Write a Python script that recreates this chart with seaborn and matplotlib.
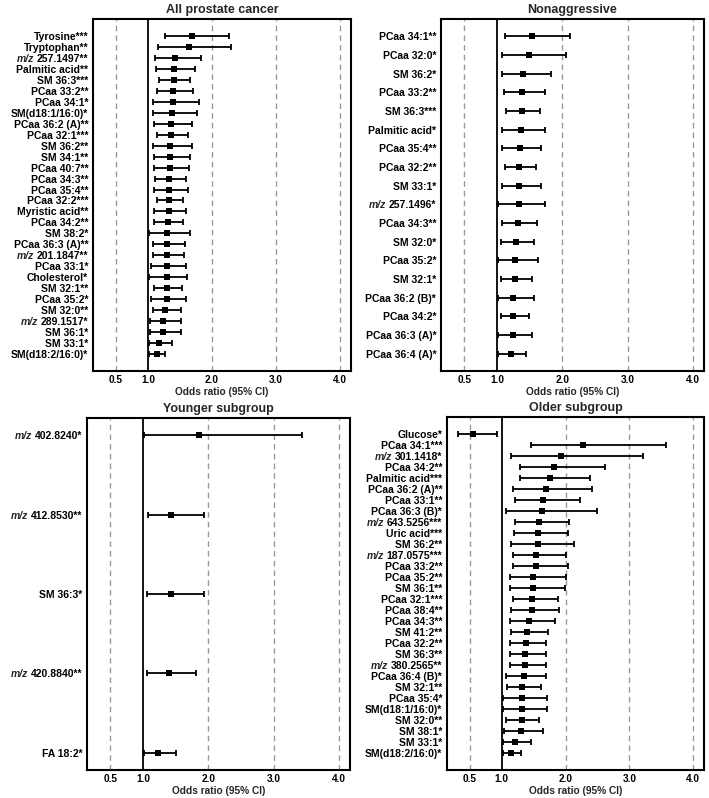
import numpy as np
import pandas as pd
import seaborn as sns
import matplotlib.pyplot as plt

# ---- data (odds ratio, lower CI, upper CI) ----
# labels starting with "m/z" get the "m/z" part drawn in italics
all_labels = [
    "Tyrosine***", "Tryptophan**", "m/z 257.1497**", "Palmitic acid**",
    "SM 36:3***", "PCaa 33:2**", "PCaa 34:1*", "SM(d18:1/16:0)*", "PCaa 36:2 (A)**",
    "PCaa 32:1***", "SM 36:2**", "SM 34:1**", "PCaa 40:7**", "PCaa 34:3**",
    "PCaa 35:4**", "PCaa 32:2***", "Myristic acid**", "PCaa 34:2**", "SM 38:2*",
    "PCaa 36:3 (A)**", "m/z 201.1847**", "PCaa 33:1*", "Cholesterol*",
    "SM 32:1**", "PCaa 35:2*", "SM 32:0**", "m/z 289.1517*", "SM 36:1*",
    "SM 33:1*", "SM(d18:2/16:0)*",
]
all_or = [1.69, 1.64, 1.42, 1.40, 1.40, 1.39, 1.39, 1.38, 1.36, 1.36, 1.35, 1.35,
          1.34, 1.33, 1.33, 1.33, 1.32, 1.31, 1.30, 1.30, 1.30, 1.29, 1.29, 1.29,
          1.29, 1.26, 1.24, 1.24, 1.17, 1.14]
all_lo = [1.27, 1.16, 1.11, 1.13, 1.17, 1.14, 1.07, 1.07, 1.10, 1.14, 1.08, 1.10,
          1.10, 1.11, 1.09, 1.14, 1.09, 1.10, 1.02, 1.07, 1.07, 1.05, 1.02, 1.09,
          1.05, 1.07, 1.03, 1.03, 1.02, 1.02]
all_hi = [2.26, 2.29, 1.82, 1.74, 1.66, 1.70, 1.79, 1.77, 1.68, 1.62, 1.68, 1.65,
          1.64, 1.60, 1.62, 1.55, 1.59, 1.55, 1.65, 1.57, 1.56, 1.60, 1.61, 1.53,
          1.59, 1.51, 1.51, 1.52, 1.37, 1.27]

nonagg_labels = [
    "PCaa 34:1**", "PCaa 32:0*", "SM 36:2*", "PCaa 33:2**", "SM 36:3***",
    "Palmitic acid*", "PCaa 35:4**", "PCaa 32:2**", "SM 33:1*",
    "m/z 257.1496*", "PCaa 34:3**", "SM 32:0*", "PCaa 35:2*",
    "SM 32:1*", "PCaa 36:2 (B)*", "PCaa 34:2*", "PCaa 36:3 (A)*", "PCaa 36:4 (A)*",
]
nonagg_or = [1.54, 1.49, 1.40, 1.38, 1.38, 1.37, 1.35, 1.34, 1.34, 1.34, 1.32,
             1.29, 1.28, 1.27, 1.25, 1.25, 1.24, 1.21]
nonagg_lo = [1.12, 1.08, 1.08, 1.10, 1.14, 1.07, 1.08, 1.12, 1.07, 1.02, 1.08,
             1.06, 1.02, 1.06, 1.02, 1.06, 1.02, 1.02]
nonagg_hi = [2.11, 2.06, 1.83, 1.73, 1.66, 1.74, 1.67, 1.60, 1.67, 1.74, 1.61,
             1.57, 1.62, 1.53, 1.57, 1.49, 1.53, 1.44]

young_labels = [
    "m/z 402.8240*", "m/z 412.8530**", "SM 36:3*", "m/z 420.8840**", "FA 18:2*",
]
young_or = [1.86, 1.43, 1.43, 1.39, 1.23]
young_lo = [1.01, 1.07, 1.06, 1.06, 1.01]
young_hi = [3.44, 1.93, 1.94, 1.81, 1.51]

old_labels = [
    "Glucose*", "PCaa 34:1***", "m/z 301.1418*", "PCaa 34:2**",
    "Palmitic acid***", "PCaa 36:2 (A)**", "PCaa 33:1**", "PCaa 36:3 (B)*",
    "m/z 643.5256***", "Uric acid***", "SM 36:2**",
    "m/z 187.0575***", "PCaa 33:2**", "PCaa 35:2**", "SM 36:1**",
    "PCaa 32:1***", "PCaa 38:4**", "PCaa 34:3**", "SM 41:2**", "PCaa 32:2**",
    "SM 36:3**", "m/z 380.2565**", "PCaa 36:4 (B)*", "SM 32:1**",
    "PCaa 35:4*", "SM(d18:1/16:0)*", "SM 32:0**", "SM 38:1*", "SM 33:1*",
    "SM(d18:2/16:0)*",
]
old_or = [0.54, 2.27, 1.93, 1.82, 1.75, 1.69, 1.65, 1.63, 1.58, 1.56, 1.56, 1.54,
          1.54, 1.49, 1.49, 1.48, 1.47, 1.43, 1.39, 1.38, 1.37, 1.37, 1.34, 1.32,
          1.32, 1.31, 1.31, 1.30, 1.20, 1.15]
old_lo = [0.31, 1.45, 1.15, 1.28, 1.29, 1.18, 1.21, 1.06, 1.21, 1.19, 1.14, 1.18,
          1.17, 1.12, 1.12, 1.17, 1.15, 1.13, 1.14, 1.13, 1.12, 1.12, 1.07, 1.08,
          1.02, 1.01, 1.07, 1.03, 1.02, 1.01]
old_hi = [0.92, 3.57, 3.22, 2.61, 2.38, 2.41, 2.23, 2.49, 2.06, 2.03, 2.13, 2.01,
          2.04, 2.00, 1.99, 1.88, 1.89, 1.84, 1.72, 1.69, 1.69, 1.69, 1.69, 1.62,
          1.70, 1.71, 1.59, 1.65, 1.45, 1.30]

x_ticks = [0.5, 1.0, 2.0, 3.0, 4.0]
x_ticklabels = ["0.5", "1.0", "2.0", "3.0", "4.0"]

sns.set_theme(style="white")
plt.rcParams["font.family"] = ["Liberation Sans", "DejaVu Sans"]
plt.rcParams["font.weight"] = "bold"

LABEL_SIZE = 7.5


def forest(ax, title, labels, odds, lo, hi):
    df = pd.DataFrame({"label": labels, "or": odds, "lo": lo, "hi": hi})
    n = len(df)
    df["pos"] = np.arange(n)

    # reference lines
    for v in [0.5, 2.0, 3.0, 4.0]:
        ax.axvline(v, color="#9a9a9a", lw=1.0, ls=(0, (4, 3)), zorder=0)
    ax.axvline(1.0, color="black", lw=1.3, zorder=1)

    ax.errorbar(df["or"], df["pos"], xerr=[df["or"] - df["lo"], df["hi"] - df["or"]],
                fmt="none", ecolor="black", elinewidth=1.3, capsize=2, capthick=1.3,
                zorder=2)
    sns.scatterplot(data=df, x="or", y="pos", marker="s", s=18, color="black",
                    edgecolor="black", linewidth=0, ax=ax, zorder=3)

    pad = (n - 1) * 0.054
    ax.set_ylim(n - 1 + pad, -pad)
    ax.set_yticks(df["pos"])
    # split off the italic "m/z" prefix
    shown = [lab[4:] if lab.startswith("m/z ") else lab for lab in df["label"]]
    ax.set_yticklabels(shown, fontsize=LABEL_SIZE, fontweight="bold")
    for lab, tl in zip(df["label"], ax.get_yticklabels()):
        if lab.startswith("m/z "):
            ax.annotate("m/z", xy=(0, 0), xycoords=tl, xytext=(-1.7, 0),
                        textcoords="offset points", ha="right", va="bottom",
                        fontsize=LABEL_SIZE, fontweight="bold", fontstyle="italic",
                        annotation_clip=False)

    ax.set_xlim(0.14, 4.17)
    ax.set_xticks(x_ticks)
    ax.set_xticklabels(x_ticklabels, fontsize=7.3, fontweight="bold")
    ax.set_xlabel("Odds ratio (95% CI)", fontsize=7.3, fontweight="bold", labelpad=1)
    ax.set_ylabel("")
    ax.set_title(title, fontsize=9, fontweight="bold", pad=4)
    ax.tick_params(axis="both", length=2.5, width=0.8, pad=1, colors="black")
    ax.tick_params(axis="x", length=0, pad=3)
    for s in ax.spines.values():
        s.set_linewidth(1.5)
        s.set_color("black")


fig = plt.figure(figsize=(7.09, 7.98), dpi=100)
ax1 = fig.add_axes([0.1312, 0.5351, 0.3639, 0.4411])
ax2 = fig.add_axes([0.6220, 0.5351, 0.3709, 0.4411])
ax3 = fig.add_axes([0.1227, 0.0351, 0.3709, 0.4411])
ax4 = fig.add_axes([0.6305, 0.0351, 0.3625, 0.4424])

forest(ax1, "All prostate cancer", all_labels, all_or, all_lo, all_hi)
forest(ax2, "Nonaggressive", nonagg_labels, nonagg_or, nonagg_lo, nonagg_hi)
forest(ax3, "Younger subgroup", young_labels, young_or, young_lo, young_hi)
forest(ax4, "Older subgroup", old_labels, old_or, old_lo, old_hi)

fig.savefig("out.png", dpi=100, facecolor="white")
